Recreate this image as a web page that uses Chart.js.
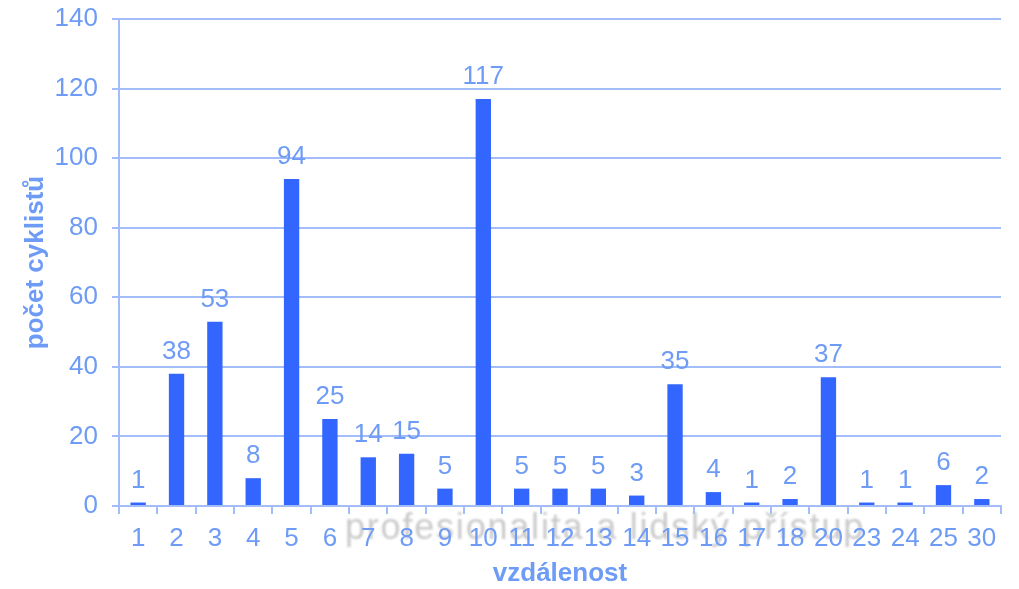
<!DOCTYPE html>
<html>
<head>
<meta charset="utf-8">
<script src="https://cdn.jsdelivr.net/npm/chart.js@4"></script>
<style>
  html, body { margin: 0; padding: 0; background: #fff; }
  #wrap { width: 1019px; height: 589px; }
</style>
</head>
<body>
<div id="wrap"><canvas id="chart" width="1019" height="589"></canvas></div>
<script>
// data
const categories = ['1','2','3','4','5','6','7','8','9','10','11','12','13','14','15','16','17','18','20','23','24','25','30'];
const cyclists = [1, 38, 53, 8, 94, 25, 14, 15, 5, 117, 5, 5, 5, 3, 35, 4, 1, 2, 37, 1, 1, 6, 2];
const yTicks = [0, 20, 40, 60, 80, 100, 120, 140];

const BAR = '#3366ff';
const TEXT = '#6e9bf5';
const GRID = '#a3bcfa';
const FONT = '"Liberation Sans", Arial, sans-serif';

// hodnoty nad sloupci
const valueLabels = {
  id: 'valueLabels',
  afterDatasetsDraw(chart) {
    const ctx = chart.ctx;
    const meta = chart.getDatasetMeta(0);
    ctx.save();
    ctx.fillStyle = TEXT;
    ctx.font = '26px ' + FONT;
    ctx.textAlign = 'center';
    ctx.textBaseline = 'bottom';
    meta.data.forEach((bar, i) => {
      ctx.fillText(String(cyclists[i]), bar.x, bar.y - 9);
    });
    ctx.restore();
  }
};

// vodoznak (pod popisky)
const watermark = {
  id: 'watermark',
  beforeDraw(chart) {
    const ctx = chart.ctx;
    ctx.save();
    ctx.font = '36px ' + FONT;
    ctx.letterSpacing = '1.8px';
    ctx.fillStyle = 'rgba(150,150,150,0.5)';
    ctx.filter = 'blur(1px)';
    ctx.textBaseline = 'alphabetic';
    ctx.fillText('profesionalita a lidský přístup', 345, 539);
    ctx.restore();
  }
};

new Chart(document.getElementById('chart'), {
  type: 'bar',
  data: {
    labels: categories,
    datasets: [{
      data: cyclists,
      backgroundColor: BAR,
      barPercentage: 0.8,
      categoryPercentage: 0.5
    }]
  },
  options: {
    responsive: false,
    animation: false,
    layout: { padding: { top: 19, right: 18, left: 0, bottom: 0 } },
    plugins: { legend: { display: false }, tooltip: { enabled: false } },
    scales: {
      x: {
        offset: true,
        grid: {
          offset: true,
          drawOnChartArea: false,
          drawTicks: true,
          tickLength: 8,
          color: GRID,
          lineWidth: 2
        },
        border: { color: GRID, width: 2 },
        ticks: { color: TEXT, font: { size: 26, family: FONT }, padding: 9, maxRotation: 0, autoSkip: false },
        title: { display: true, text: 'vzdálenost', color: TEXT, font: { size: 26, weight: 'bold', family: FONT }, padding: { top: 0, bottom: 0 } },
        afterFit(scale) { scale.height = 83; scale.paddingLeft = 0; scale.paddingRight = 0; }
      },
      y: {
        min: 0,
        max: 140,
        afterBuildTicks(scale) { scale.ticks = yTicks.map(v => ({ value: v })); },
        grid: { color: GRID, lineWidth: 2, tickLength: 7 },
        border: { color: GRID, width: 2 },
        ticks: { color: TEXT, font: { size: 26, family: FONT }, padding: 14 },
        title: { display: true, text: 'počet cyklistů', color: TEXT, font: { size: 26, weight: 'bold', family: FONT }, padding: { top: 20, bottom: 0 } },
        afterFit(scale) { scale.width = 119; scale.paddingTop = 0; scale.paddingBottom = 0; }
      }
    }
  },
  plugins: [valueLabels, watermark]
});
</script>
</body>
</html>
